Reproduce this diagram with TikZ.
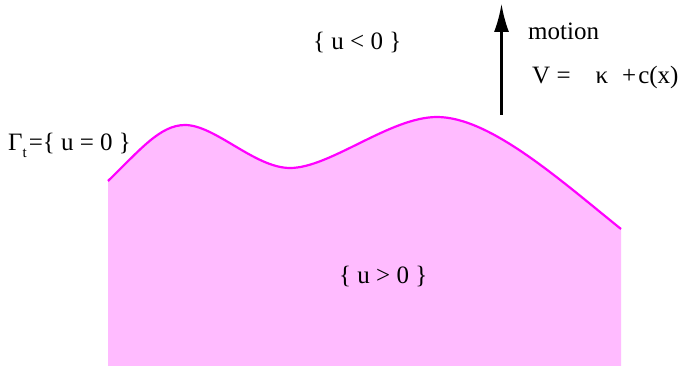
\documentclass[tikz,border=0pt]{standalone}
\usepackage{fontspec}
\setmainfont{Liberation Serif}
\usetikzlibrary{arrows.meta}
\definecolor{regionfill}{HTML}{FFBBFF}
\definecolor{frontline}{HTML}{FF00FF}
\tikzset{
  lbl/.style={inner sep=0pt, anchor=base west, font=\fontsize{25}{28}\selectfont, text=black},
  front/.style={draw=frontline, line width=2.2pt},
  motionarrow/.style={line width=2.3pt, -{Latex[length=28pt,width=15pt]}}
}
\begin{document}
\begin{tikzpicture}[x=1pt,y=-1pt]
\useasboundingbox (0,0) rectangle (680,366);
% region u>0
\fill[regionfill] (108,181) .. controls (140,150) and (160,125) .. (185,125)
  .. controls (215,125) and (255,168) .. (290,168)
  .. controls (330,168) and (390,117) .. (437,117)
  .. controls (490,117) and (560,180) .. (621,229)
  -- (621,366) -- (108,366) -- cycle;
% front Gamma_t
\draw[front] (108,181) .. controls (140,150) and (160,125) .. (185,125)
  .. controls (215,125) and (255,168) .. (290,168)
  .. controls (330,168) and (390,117) .. (437,117)
  .. controls (490,117) and (560,180) .. (621,229);
% labels
\node[lbl] (gamma) at (8,151) {Γ\raisebox{-7pt}{\fontsize{15}{15}\selectfont t}\hspace{2pt}=\{ u = 0 \}};
\node[lbl] (neg) at (313,50) {\{ u < 0 \}};
\node[lbl] (pos) at (339,283) {\{ u > 0 \}};
\node[lbl] (motion) at (528,40) {motion};
\node[lbl] (vel) at (532,84) {V =\hspace{25pt}κ\hspace{14pt}+\hspace{2pt}c(x)};
% arrow
\coordinate (arrowfoot) at (501.5,115);
\coordinate (arrowtip) at (501.5,4);
\draw[motionarrow] (arrowfoot) -- (arrowtip);
\end{tikzpicture}
\end{document}
